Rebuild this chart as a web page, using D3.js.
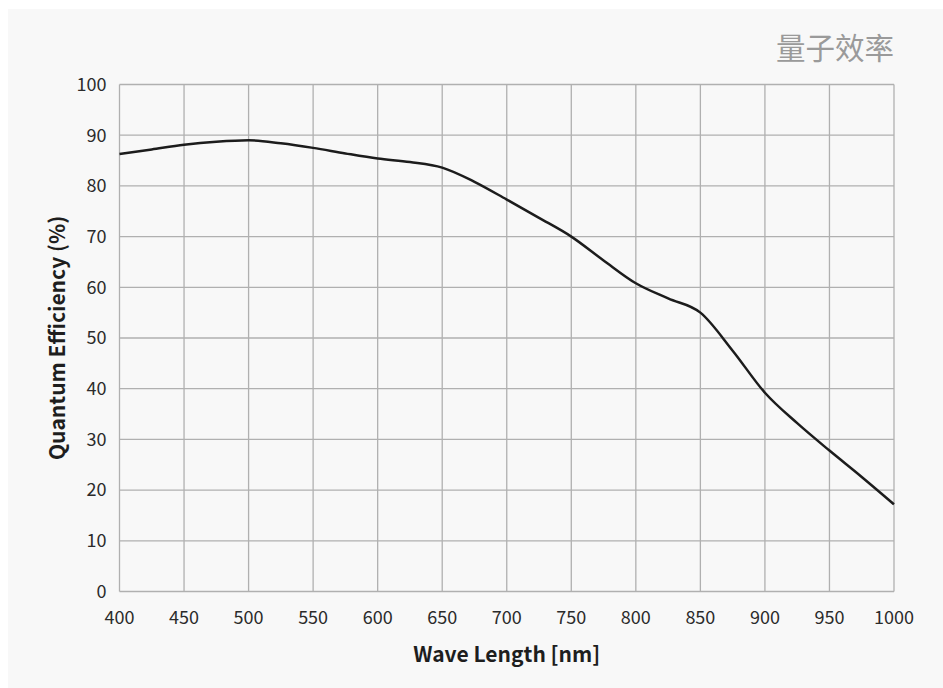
<!DOCTYPE html>
<html>
<head>
    <meta charset="utf-8">
    <title>Quantum Efficiency</title>
    <script src="https://d3js.org/d3.v7.min.js"></script>
    <style>
        body { margin: 0; background: #ffffff; }
        .grid line { stroke: #b0b0b0; stroke-width: 1.3px; }
        .tick-label { font-family: "Noto Sans CJK SC", "Noto Sans", sans-serif; font-size: 18px; fill: #2b2b2b; }
        .axis-title { font-family: "Noto Sans CJK SC", "Noto Sans", sans-serif; font-size: 21px; font-weight: bold; fill: #1e1e1e; }
        .line { fill: none; stroke: #1c1c1c; stroke-width: 2.5px; }
    </style>
</head>
<body>
    <script>
        // Data
        var wavelengths = [400, 425, 450, 475, 500, 525, 550, 575, 600, 625, 650, 675, 700,
                           725, 750, 775, 800, 825, 850, 875, 900, 925, 950, 975, 1000];
        var efficiency  = [86.3, 87.2, 88.1, 88.7, 89.0, 88.4, 87.5, 86.4, 85.4, 84.7, 83.6, 80.8, 77.3,
                           73.7, 70.0, 65.3, 60.8, 57.8, 55.0, 47.5, 39.2, 33.2, 27.8, 22.6, 17.2];
        var xTicks = [400, 450, 500, 550, 600, 650, 700, 750, 800, 850, 900, 950, 1000];
        var yTicks = [0, 10, 20, 30, 40, 50, 60, 70, 80, 90, 100];

        var W = 943, H = 688;
        var margin = {top: 84.5, right: 49, bottom: 96.5, left: 119.5},
            width = W - margin.left - margin.right,
            height = H - margin.top - margin.bottom;

        var svg = d3.select("body").append("svg")
            .attr("width", W)
            .attr("height", H);

        // light grey card
        svg.append("rect")
            .attr("x", 8).attr("y", 9)
            .attr("width", W - 8).attr("height", H - 9)
            .attr("fill", "#f8f8f8");

        var g = svg.append("g")
            .attr("transform", "translate(" + margin.left + "," + margin.top + ")");

        var x = d3.scaleLinear().domain([400, 1000]).range([0, width]);
        var y = d3.scaleLinear().domain([0, 100]).range([height, 0]);

        // Grid
        var grid = g.append("g").attr("class", "grid");
        grid.selectAll(".vx").data(xTicks).enter().append("line")
            .attr("x1", function(d) { return x(d); })
            .attr("x2", function(d) { return x(d); })
            .attr("y1", 0).attr("y2", height);
        grid.selectAll(".hy").data(yTicks).enter().append("line")
            .attr("x1", 0).attr("x2", width)
            .attr("y1", function(d) { return y(d); })
            .attr("y2", function(d) { return y(d); });

        // Tick labels
        g.selectAll(".xl").data(xTicks).enter().append("text")
            .attr("class", "tick-label")
            .attr("x", function(d) { return x(d); })
            .attr("y", height + 32)
            .attr("text-anchor", "middle")
            .text(function(d) { return d; });
        g.selectAll(".yl").data(yTicks).enter().append("text")
            .attr("class", "tick-label")
            .attr("x", -13)
            .attr("y", function(d) { return y(d); })
            .attr("dy", "0.35em")
            .attr("text-anchor", "end")
            .text(function(d) { return d; });

        // Curve
        var valueline = d3.line()
            .x(function(d, i) { return x(wavelengths[i]); })
            .y(function(d) { return y(d); })
            .curve(d3.curveMonotoneX);

        g.append("path")
            .datum(efficiency)
            .attr("class", "line")
            .attr("d", valueline);

        // Axis titles
        g.append("text")
            .attr("class", "axis-title")
            .attr("x", width / 2)
            .attr("y", height + 70)
            .attr("text-anchor", "middle")
            .text("Wave Length [nm]");
        g.append("text")
            .attr("class", "axis-title")
            .attr("transform", "translate(" + (-55) + "," + (height / 2) + ") rotate(-90)")
            .attr("text-anchor", "middle")
            .text("Quantum Efficiency (%)");

        // Title
        svg.append("text")
            .attr("x", margin.left + width)
            .attr("y", 59)
            .attr("text-anchor", "end")
            .attr("font-family", "'Noto Sans CJK SC', sans-serif")
            .attr("font-size", 29.5)
            .attr("fill", "#9a9a9a")
            .text("量子效率");
    </script>
</body>
</html>
